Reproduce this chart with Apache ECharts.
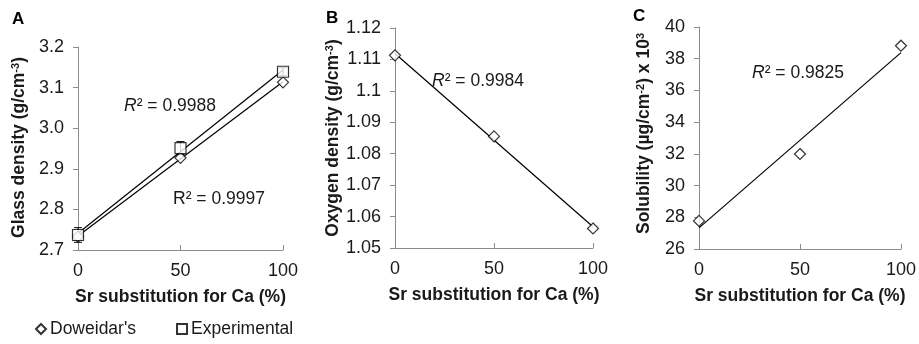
<!DOCTYPE html>
<html>
<head>
<meta charset="utf-8">
<script src="https://cdn.jsdelivr.net/npm/echarts@6/dist/echarts.min.js"></script>
<style>
html, body { margin: 0; background: #fff; }
#chart { width: 919px; height: 344px; }
</style>
</head>
<body>
<div id="chart"></div>
<script>
// Sr substitution for Ca (%)
const xSubst = [0, 50, 100];

// Panel A - glass density (g/cm-3)
const glassDoweidar = [2.733, 2.927, 3.113];
const glassExperimental = [2.737, 2.951, 3.139];
const glassExpError = [0.018, 0.016, 0.010];

// Panel B - oxygen density (g/cm-3)
const oxygenDensity = [1.1113, 1.0855, 1.0562];

// Panel C - solubility (ug/cm-2) x 10^3
const solubility = [27.77, 31.99, 38.82];

// R² annotations
const r2Texts = ['{i|R}² = 0.9988', 'R² = 0.9997', '{i|R}² = 0.9984', '{i|R}² = 0.9825'];

const FONT = 'Liberation Sans';
const TXT = '#1a1a1a';
const AXIS = '#8c8c8c';

// least-squares trendline drawn across the x range
function trend(xs, ys) {
    const n = xs.length;
    const mx = xs.reduce((a, b) => a + b, 0) / n;
    const my = ys.reduce((a, b) => a + b, 0) / n;
    let sxy = 0, sxx = 0;
    for (let i = 0; i < n; i++) {
        sxy += (xs[i] - mx) * (ys[i] - my);
        sxx += (xs[i] - mx) * (xs[i] - mx);
    }
    const b = sxy / sxx, a = my - b * mx;
    return [[xs[0], a + b * xs[0]], [xs[n - 1], a + b * xs[n - 1]]];
}
const pairs = ys => xSubst.map((x, i) => [x, ys[i]]);

const chart = echarts.init(document.getElementById('chart'));

const grids = [
    { left: 78, top: 47, width: 205, height: 203 },
    { left: 395, top: 28, width: 198, height: 220 },
    { left: 699, top: 27, width: 203, height: 222 },
];

const supRich = {
    sup: { fontSize: 11, fontWeight: 'bold', fontFamily: FONT, color: TXT, verticalAlign: 'top', padding: [0, 0, 7, 0] },
};

const xAxes = grids.map((g, i) => ({
    type: 'value', gridIndex: i, min: 0, max: 100, interval: 50,
    name: 'Sr substitution for Ca (%)', nameLocation: 'middle', nameGap: 38,
    nameTextStyle: { fontFamily: FONT, fontSize: 17.5, fontWeight: 'bold', color: TXT },
    axisLine: { show: true, lineStyle: { color: AXIS, width: 1 } },
    axisTick: { show: true, inside: true, length: 5, lineStyle: { color: AXIS } },
    axisLabel: { fontFamily: FONT, fontSize: 18, color: TXT, margin: 12 },
    splitLine: { show: false },
}));

function yAxis(i, min, max, interval, nameRich, gap, fmt, pad) {
    return {
        type: 'value', gridIndex: i, min, max, interval,
        name: nameRich, nameLocation: 'middle', nameGap: gap,
        nameTextStyle: { fontFamily: FONT, fontSize: 17.5, fontWeight: 'bold', color: TXT, rich: supRich, padding: pad },
        axisLine: { show: true, lineStyle: { color: AXIS, width: 1 } },
        axisTick: { show: true, length: 5, lineStyle: { color: AXIS } },
        axisLabel: { fontFamily: FONT, fontSize: 18, color: TXT, margin: 14, formatter: fmt },
        splitLine: { show: false },
    };
}

const yAxes = [
    yAxis(0, 2.7, 3.2, 0.1, 'Glass density (g/cm{sup|-3})', 50, v => v.toFixed(1), [0, 0, 0, 2]),
    yAxis(1, 1.05, 1.12, 0.01, 'Oxygen density (g/cm{sup|-3})', 52, null, [0, 0, 0, 0]),
    yAxis(2, 26, 40, 2, 'Solubility (µg/cm{sup|-2}) x 10{sup|3}', 46, null, [0, 0, 0, 9]),
];

const markerStyle = { color: '#fff', borderColor: '#000', borderWidth: 1.2 };
const lineStyle = { color: '#000', width: 1.2 };

function trendSeries(i, ys) {
    return {
        type: 'line', xAxisIndex: i, yAxisIndex: i, data: trend(xSubst, ys),
        symbol: 'none', lineStyle, silent: true, z: 2, clip: false,
    };
}

const series = [
    trendSeries(0, glassExperimental),
    trendSeries(0, glassDoweidar),
    {
        type: 'custom', xAxisIndex: 0, yAxisIndex: 0, z: 3,
        data: xSubst.map((x, i) => [x, glassExperimental[i] - glassExpError[i], glassExperimental[i] + glassExpError[i]]),
        renderItem(params, api) {
            const lo = api.coord([api.value(0), api.value(1)]);
            const hi = api.coord([api.value(0), api.value(2)]);
            const w = 4;
            const st = { stroke: '#000', lineWidth: 1 };
            return {
                type: 'group', children: [
                    { type: 'line', shape: { x1: lo[0], y1: lo[1], x2: hi[0], y2: hi[1] }, style: st },
                    { type: 'line', shape: { x1: lo[0] - w, y1: lo[1], x2: lo[0] + w, y2: lo[1] }, style: st },
                    { type: 'line', shape: { x1: hi[0] - w, y1: hi[1], x2: hi[0] + w, y2: hi[1] }, style: st },
                ],
            };
        },
    },
    {
        name: "Doweidar's", type: 'scatter', xAxisIndex: 0, yAxisIndex: 0, z: 4,
        data: pairs(glassDoweidar), symbol: 'diamond', symbolSize: 11, itemStyle: markerStyle,
    },
    {
        name: 'Experimental', type: 'scatter', xAxisIndex: 0, yAxisIndex: 0, z: 5,
        data: pairs(glassExperimental), symbol: 'rect', symbolSize: 11, itemStyle: markerStyle,
    },
    trendSeries(1, oxygenDensity),
    {
        name: 'Oxygen', type: 'scatter', xAxisIndex: 1, yAxisIndex: 1, z: 4,
        data: pairs(oxygenDensity), symbol: 'diamond', symbolSize: 11, itemStyle: markerStyle,
    },
    trendSeries(2, solubility),
    {
        name: 'Solubility', type: 'scatter', xAxisIndex: 2, yAxisIndex: 2, z: 4,
        data: pairs(solubility), symbol: 'diamond', symbolSize: 11, itemStyle: markerStyle,
    },
];

const textStyle = { fontFamily: FONT, fontSize: 17.5, fill: TXT, rich: { i: { fontStyle: 'italic', fontFamily: FONT, fontSize: 17.5, color: TXT } } };
const r2Pos = [[124, 97], [173, 190], [432, 72], [752, 64]];
const letters = [['A', 12, 11], ['B', 326, 10], ['C', 633, 8]];

const graphic = r2Texts.map((t, i) => ({
    type: 'text', left: r2Pos[i][0], top: r2Pos[i][1], style: Object.assign({ text: t }, textStyle),
})).concat(letters.map(l => ({
    type: 'text', left: l[1], top: l[2],
    style: { text: l[0], fontFamily: FONT, fontSize: 17, fontWeight: 'bold', fill: '#000' },
})));

chart.setOption({
    animation: false,
    backgroundColor: '#fff',
    grid: grids,
    xAxis: xAxes,
    yAxis: yAxes,
    legend: {
        left: 30, top: 315, itemWidth: 10, itemHeight: 10, itemGap: 40,
        data: [{ name: "Doweidar's", icon: 'diamond' }, { name: 'Experimental', icon: 'rect' }],
        textStyle: { fontFamily: FONT, fontSize: 17.5, color: TXT, padding: [0, 0, 0, -1] },
    },
    graphic,
    series,
});
</script>
</body>
</html>
